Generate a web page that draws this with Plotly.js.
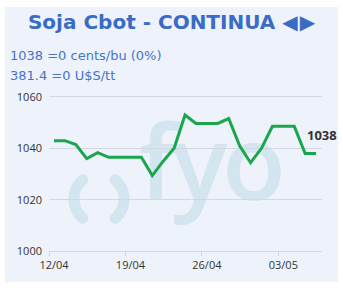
<!DOCTYPE html>
<html>
<head>
<meta charset="utf-8">
<script src="https://cdn.plot.ly/plotly-3.0.1.min.js"></script>
<style>
  html, body { margin: 0; padding: 0; background: #ffffff; }
  #wrap { position: relative; width: 343px; height: 292px; overflow: hidden; }
  #panel { position: absolute; left: 5px; top: 7px; width: 333px; height: 275px; background: #eef2fb; }
  #wm { position: absolute; left: 0; top: 0; }
  #chart { position: absolute; left: 5px; top: 7px; width: 333px; height: 275px; }
</style>
</head>
<body>
<div id="wrap">
  <div id="panel"></div>
  <svg id="wm" width="343" height="292" xmlns="http://www.w3.org/2000/svg">
    <path d="M82.9,179.8 A25,25 0 0 0 82.9,218.2" fill="none" stroke="#d3e5ef" stroke-width="11" stroke-linecap="round"/>
    <path d="M115.1,179.8 A25,25 0 0 1 115.1,218.2" fill="none" stroke="#d3e5ef" stroke-width="11" stroke-linecap="round"/>
    <text x="139" y="200" font-family="Open Sans" font-weight="600" font-size="104" letter-spacing="-5" fill="#d3e5ef">fyo</text>
  </svg>
  <div id="chart"></div>
</div>
<script>
// Daily closing prices (cents/bu)
const dates = [
  "2025-04-12 11:00", "2025-04-13 11:00", "2025-04-14 11:00", "2025-04-15 11:00", "2025-04-16 11:00",
  "2025-04-17 11:00", "2025-04-18 11:00", "2025-04-19 11:00", "2025-04-20 11:00", "2025-04-21 11:00",
  "2025-04-22 11:00", "2025-04-23 11:00", "2025-04-24 11:00", "2025-04-25 11:00", "2025-04-26 11:00",
  "2025-04-27 11:00", "2025-04-28 11:00", "2025-04-29 11:00", "2025-04-30 11:00", "2025-05-01 11:00",
  "2025-05-02 11:00", "2025-05-03 11:00", "2025-05-04 11:00", "2025-05-05 11:00", "2025-05-06 11:00"
];
const prices = [
  1043, 1043, 1041.5, 1036, 1038.3,
  1036.5, 1036.5, 1036.5, 1036.5, 1029.4,
  1035, 1040, 1053, 1049.7, 1049.7,
  1049.7, 1051.6, 1041, 1034.4, 1040,
  1048.6, 1048.6, 1048.6, 1038, 1038
];
const titleMain = "Soja Cbot - CONTINUA";
const titleArrows = "◀\u200A▶";
const infoLine1 = "1038 =0 cents/bu (0%)";
const infoLine2 = "381.4 =0 U$S/tt";
const yTicks = [1000, 1020, 1040, 1060];
const xTickLabels = ["12/04", "19/04", "26/04", "03/05"];
const xTickVals = ["2025-04-12", "2025-04-19", "2025-04-26", "2025-05-03"];

const lastX = dates[dates.length - 1];
const lastY = prices[prices.length - 1];

const trace = {
  x: dates,
  y: prices,
  type: "scatter",
  mode: "lines",
  line: { color: "#1aa64c", width: 3 },
  hoverinfo: "skip"
};

const layout = {
  width: 333,
  height: 275,
  margin: { l: 44, r: 16, t: 90, b: 31 },
  paper_bgcolor: "rgba(0,0,0,0)",
  plot_bgcolor: "rgba(0,0,0,0)",
  showlegend: false,
  title: {
    text: titleMain + " <span style=\"font-size:20px\">" + titleArrows + "</span>",
    font: { family: "DejaVu Sans", size: 20, color: "#3a6cc5", weight: "bold" },
    x: 0.5, xanchor: "center",
    y: 1 - 14.7 / 275, yanchor: "middle", yref: "container"
  },
  xaxis: {
    type: "date",
    range: ["2025-04-12", "2025-05-07"],
    tickvals: xTickVals,
    ticktext: xTickLabels,
    ticks: "outside",
    ticklen: 4,
    tickcolor: "#ccd6eb",
    ticklabelshift: 5,
    showgrid: false,
    showline: true,
    linecolor: "#d3d8e0",
    linewidth: 1,
    mirror: true,
    zeroline: false,
    tickfont: { family: "Open Sans", size: 11, color: "#333333" },
    fixedrange: true
  },
  yaxis: {
    range: [1000, 1060],
    tickvals: yTicks,
    ticktext: yTicks.map(String),
    showgrid: true,
    gridcolor: "#d3d8e0",
    gridwidth: 1,
    zeroline: false,
    showline: false,
    ticks: "",
    ticklabelstandoff: 6,
    tickfont: { family: "Open Sans", size: 11, color: "#333333" },
    fixedrange: true
  },
  annotations: [
    {
      text: infoLine1, xref: "paper", yref: "paper", x: 0, y: 1,
      xanchor: "left", yanchor: "middle", xshift: -41, yshift: 42, showarrow: false,
      font: { family: "DejaVu Sans", size: 13, color: "#4675c8" }
    },
    {
      text: infoLine2, xref: "paper", yref: "paper", x: 0, y: 1,
      xanchor: "left", yanchor: "middle", xshift: -41, yshift: 22, showarrow: false,
      font: { family: "DejaVu Sans", size: 13, color: "#4675c8" }
    },
    {
      text: String(lastY), x: lastX, y: lastY, xref: "x", yref: "y",
      xanchor: "left", yanchor: "middle", xshift: -11, yshift: 18, showarrow: false,
      font: { family: "Open Sans", size: 13, color: "#333333", weight: "bold" }
    }
  ]
};

Plotly.newPlot("chart", [trace], layout, { displayModeBar: false, staticPlot: true });
</script>
</body>
</html>
